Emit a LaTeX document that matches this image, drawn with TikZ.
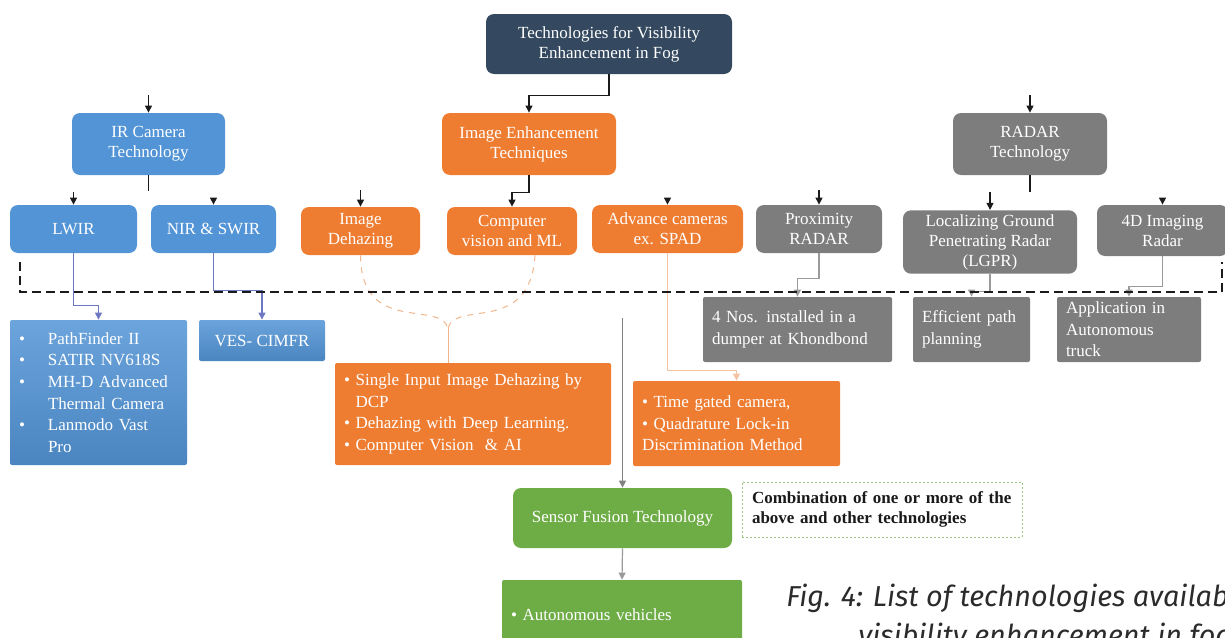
\documentclass[tikz,border=0pt]{standalone}
\usepackage{fontspec}
\setmainfont{Liberation Serif}
\newfontfamily\capfont{Fira Sans}
\usepackage{tikz}
\usetikzlibrary{arrows.meta}
\definecolor{fgInk}{HTML}{1A1A1A}
\definecolor{fgNavy}{HTML}{34495F}
\definecolor{fgBlue}{HTML}{5294D6}
\definecolor{fgOrange}{HTML}{EE7D32}
\definecolor{fgGrey}{HTML}{7D7D7D}
\definecolor{fgGreen}{HTML}{6EAC46}
\definecolor{fgLink}{HTML}{6E78C2}
\definecolor{fgPeach}{HTML}{F2B48A}
\definecolor{fgLine}{HTML}{9A9A9A}
\definecolor{fgCap}{HTML}{2B2B2B}
\newcommand\bxfont{\fontsize{8.5}{10}\selectfont}
\newcommand\lsfont{\fontsize{8.5}{10.8}\selectfont}
\newcommand\bul{\makebox[14.5pt][l]{\textbullet}}
\tikzset{
  bx/.style={rounded corners=4pt, inner sep=2pt, align=center, text=white, font=\bxfont},
  bxN/.style={bx, fill=fgNavy},
  bxB/.style={bx, fill=fgBlue},
  bxO/.style={bx, fill=fgOrange},
  bxK/.style={bx, fill=fgGrey},
  bxG/.style={bx, fill=fgGreen},
  lst/.style={rounded corners=1pt, inner xsep=4.5pt, inner ysep=2pt, align=left, text=white, font=\lsfont},
  lstB/.style={lst, top color=fgBlue!85!white, bottom color=fgBlue!90!black},
  lstO/.style={lst, fill=fgOrange},
  lstK/.style={lst, fill=fgGrey},
  lstG/.style={lst, fill=fgGreen},
  note/.style={draw=fgGreen!70, dash pattern=on 1pt off 1pt, line width=0.5pt, inner xsep=5pt, align=left, font=\bxfont\bfseries, text=fgInk},
  arr/.style={-{Triangle[length=3.5pt,width=3.5pt]}, draw=fgInk, line width=0.6pt},
  arrB/.style={arr, draw=fgLink},
  arrK/.style={arr, draw=fgLine},
  arrP/.style={arr, draw=fgPeach!80},
  stub/.style={draw=fgInk, line width=0.6pt},
  peach/.style={draw=fgPeach, line width=0.5pt},
  fence/.style={draw=fgInk, line width=1.4pt, dash pattern=on 4.5pt off 2.5pt},
  capt/.style={inner sep=0pt, font=\capfont\itshape\fontsize{14.4}{18}\selectfont, text=fgCap},
}

\begin{document}
\begin{tikzpicture}[x=0.5pt, y=-0.5pt]
  \useasboundingbox (0,0) rectangle (1225,637);
  \clip (0,0) rectangle (1225,637);
  % top level
  \node[bxN, minimum width=123pt, minimum height=30pt] (top) at (609,44) {Technologies for Visibility\\Enhancement in Fog};
  \node[bxB, minimum width=76.5pt, minimum height=31pt] (ir) at (148.5,144) {IR Camera\\Technology};
  \node[bxO, minimum width=87pt, minimum height=31pt] (ie) at (529,144) {Image Enhancement\\Techniques};
  \node[bxK, minimum width=77pt, minimum height=31pt] (radar) at (1030,144) {RADAR\\Technology};
  % second row
  \node[bxB, minimum width=63.5pt, minimum height=24pt] (lwir) at (73.5,229) {LWIR};
  \node[bxB, minimum width=62.5pt, minimum height=24pt] (nir) at (213.5,229) {NIR \& SWIR};
  \node[bxO, minimum width=59.5pt, minimum height=24pt] (dehaze) at (360.5,231) {Image\\Dehazing};
  \node[bxO, minimum width=65pt, minimum height=24pt] (cv) at (512,231) {Computer\\vision and ML};
  \node[bxO, minimum width=75.5pt, minimum height=24pt] (adv) at (667.5,229) {Advance cameras\\ex. SPAD};
  \node[bxK, minimum width=63pt, minimum height=24pt] (prox) at (819,229) {Proximity\\RADAR};
  \node[bxK, minimum width=87pt, minimum height=31pt] (lgpr) at (990,242) {Localizing Ground\\Penetrating Radar\\(LGPR)};
  \node[bxK, minimum width=65.5pt, minimum height=25.5pt] (fourd) at (1162.5,230.5) {4D Imaging\\Radar};
  % third row
  \node[lstB, text width=79.5pt, minimum height=72.5pt] (pf) at (98.5,392.5) {\bul PathFinder II\\\bul SATIR NV618S\\\bul MH-D Advanced\\\hspace*{14.5pt}Thermal Camera\\\bul Lanmodo Vast\\\hspace*{14.5pt}Pro};
  \node[lstB, align=center, minimum width=63pt, minimum height=20.5pt] (ves) at (262,340.5) {VES- CIMFR};
  \node[lstO, text width=129pt, minimum height=51pt] (dh) at (473,414) {\textbullet\ Single Input Image Dehazing by\\\phantom{\textbullet\ }DCP\\\textbullet\ Dehazing with Deep Learning.\\\textbullet\ Computer Vision \ \& AI};
  \node[lstK, text width=85.5pt, minimum height=32.5pt] (nos) at (797.5,329.5) {4 Nos. installed in a\\dumper at Khondbond};
  \node[lstK, text width=49.5pt, minimum height=32.5pt] (eff) at (971.5,329.5) {Efficient path\\planning};
  \node[lstK, text width=63pt, minimum height=32.5pt] (app) at (1129,329.5) {Application in\\Autonomous\\truck};
  \node[lstO, text width=94.5pt, minimum height=42.5pt] (tg) at (736.5,423.5) {\textbullet\ Time gated camera,\\\textbullet\ Quadrature Lock-in\\Discrimination Method};
  % fusion
  \node[bxG, minimum width=109.5pt, minimum height=30pt] (sf) at (622.5,518) {Sensor Fusion Technology};
  \node[note, text width=130pt, minimum height=27.5pt] (comb) at (882,509.5) {Combination of one or more of the\\above and other technologies};
  \node[lstG, text width=111pt, minimum height=35pt] (auto) at (622,615) {\textbullet\ Autonomous vehicles};
  % caption
  \node[capt, anchor=base west] (cap1) at (786,606) {Fig. 4: List of technologies available};
  \node[capt, anchor=base west] (cap2) at (858,645) {visibility enhancement in fog};
  % links
  \coordinate (irIn) at (148.5,95);
  \coordinate (radIn) at (1030,95);
  \draw[arr] (top.south) -- ++(0,21) -| (ie.north);
  \draw[arr] (irIn) -- (ir.north);
  \draw[arr] (radIn) -- (radar.north);
  \draw[stub] (ir.south) -- ++(0,16);
  \draw[stub] (radar.south) -- ++(0,17);
  \draw[arr] (ie.south) -- ++(0,17) -| (cv.north);
  \foreach \n/\y in {lwir/192,nir/199,dehaze/190,adv/199,prox/190,lgpr/192,fourd/199}
    \coordinate (\n-in) at (\n.north |- 0,\y);
  \foreach \n in {lwir,nir,dehaze,adv,prox,lgpr,fourd}
    \draw[arr] (\n-in) -- (\n.north);
  \draw[arrB] (lwir.south) -- ++(0,52) -| (pf.north);
  \draw[arrB] (nir.south) -- ++(0,37) -| (ves.north);
  \coordinate (dhY) at (448,328);
  \draw[peach, dashed] (dehaze.south) .. controls (361,335) and (440,300) .. (dhY);
  \draw[peach, dashed] ([xshift=11.5pt]cv.south) .. controls (530,335) and (456,300) .. (dhY);
  \draw[peach] (dhY) -- (dh.north -| dhY);
  \draw[arrP] (adv.south) -- ++(0,117) -| (tg.north);
  \draw[arrK] (prox.south) -- ++(0,25) -| (nos.north);
  \draw[arrK] (lgpr.south) -- ++(0,17) -| (eff.north);
  \draw[arrK] (fourd.south) -- ++(0,30) -| (app.north);
  \coordinate (sfIn) at (622.5,318);
  \draw[arr, draw=fgInk!55] (sfIn) -- (sf.north);
  \draw[arrK] (sf.south) -- (auto.north);
  \draw[fence] (20,262) |- (1222,292) -- (1222,262);
\end{tikzpicture}
\end{document}
